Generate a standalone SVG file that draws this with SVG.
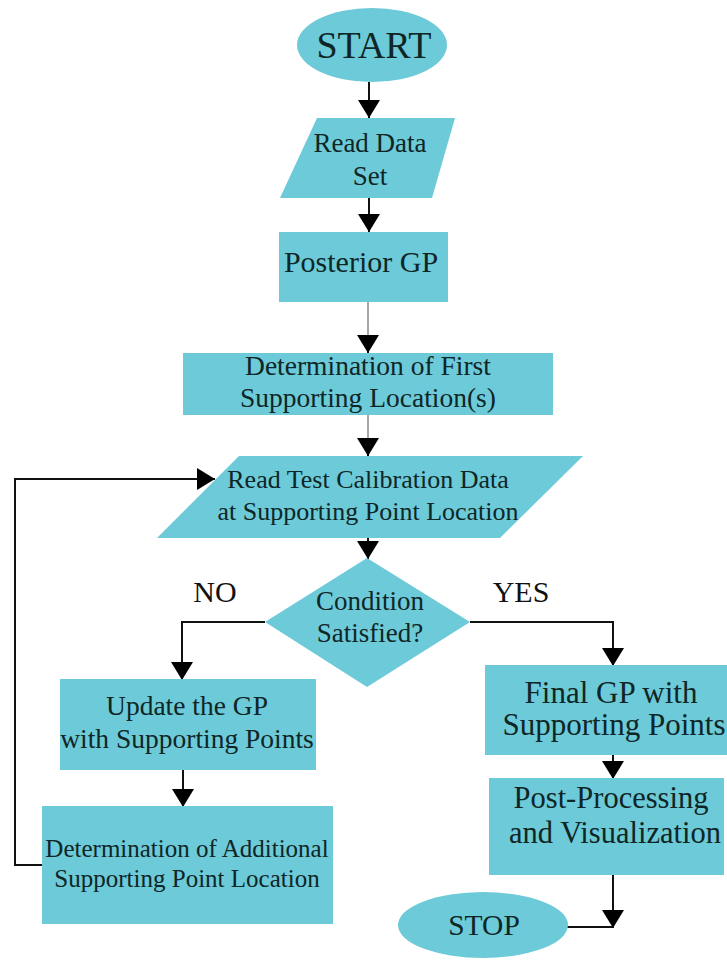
<svg xmlns="http://www.w3.org/2000/svg" width="727" height="960" viewBox="0 0 727 960">
<style>
.n{fill:#6dcad8;stroke:none}
.t{fill:#0f2626;text-anchor:middle}
.lbl{fill:#111;text-anchor:middle}
.c{fill:none;stroke:#111;stroke-width:2}
.g{fill:none;stroke:#8a8a8a;stroke-width:1.5}
</style>
<defs>
<marker id="ah" markerUnits="userSpaceOnUse" markerWidth="18" markerHeight="22" refX="18" refY="11" orient="auto">
<path d="M0,0 L18,11 L0,22 z" fill="#000"/>
</marker>
</defs>
<rect width="727" height="960" fill="#fff"/>
<g id="connectors">
<path class="c" d="M369,82 V118" marker-end="url(#ah)"/>
<path class="c" d="M369,198 V232" marker-end="url(#ah)"/>
<path class="g" d="M368,302 V340"/>
<path class="c" d="M368,338 V353" marker-end="url(#ah)"/>
<path class="g" d="M368,415 V442"/>
<path class="c" d="M368,440 V456" marker-end="url(#ah)"/>
<path class="c" d="M368,538 V559" marker-end="url(#ah)"/>
<path class="c" d="M265,622 H182 V680" marker-end="url(#ah)"/>
<path class="c" d="M470,622 H613 V666" marker-end="url(#ah)"/>
<path class="c" d="M183,770 V807" marker-end="url(#ah)"/>
<path class="c" d="M613,755 V779" marker-end="url(#ah)"/>
<path class="c" d="M613,875 V928" marker-end="url(#ah)"/>
<path class="c" d="M613,927 H567"/>
<path class="c" d="M42,865 H15 V479 H215" marker-end="url(#ah)"/>
</g>
<g font-family="Liberation Serif, Tinos, DejaVu Serif, Times New Roman, serif">
<g id="start">
<ellipse class="n" cx="372" cy="45" rx="75" ry="37"/>
<text class="t" x="374" y="58" font-size="38">START</text>
</g>
<g id="read-data">
<polygon class="n" points="317,118 455,118 432,198 280,198"/>
<text class="t" x="370" y="152" font-size="27">Read Data</text>
<text class="t" x="370" y="185" font-size="27">Set</text>
</g>
<g id="posterior">
<rect class="n" x="279" y="232" width="169" height="70"/>
<text class="t" x="361" y="272" font-size="30">Posterior GP</text>
</g>
<g id="first-loc">
<rect class="n" x="183" y="353" width="370" height="62"/>
<text class="t" x="368" y="375" font-size="27.5">Determination of First</text>
<text class="t" x="368" y="407" font-size="27.5">Supporting Location(s)</text>
</g>
<g id="read-test">
<polygon class="n" points="239,456 583,456 500,538 157,538"/>
<text class="t" x="368" y="488" font-size="26">Read Test Calibration Data</text>
<text class="t" x="368" y="520" font-size="26">at Supporting Point Location</text>
</g>
<g id="condition">
<polygon class="n" points="367,558 470,622 367,687 265,622"/>
<text class="t" x="370" y="610" font-size="27">Condition</text>
<text class="t" x="370" y="642" font-size="27">Satisfied?</text>
</g>
<g id="labels">
<text class="lbl" x="215" y="602" font-size="30">NO</text>
<text class="lbl" x="521" y="602" font-size="30">YES</text>
</g>
<g id="update">
<rect class="n" x="60" y="679" width="256" height="91"/>
<text class="t" x="187" y="715" font-size="27.5">Update the GP</text>
<text class="t" x="187" y="748" font-size="27.5">with Supporting Points</text>
</g>
<g id="additional">
<rect class="n" x="42" y="806" width="291" height="118"/>
<text class="t" x="187" y="857" font-size="25">Determination of Additional</text>
<text class="t" x="187" y="887" font-size="25">Supporting Point Location</text>
</g>
<g id="final">
<rect class="n" x="485" y="665" width="245" height="90"/>
<text class="t" x="611" y="703" font-size="31">Final GP with</text>
<text class="t" x="614" y="735" font-size="31">Supporting Points</text>
</g>
<g id="post">
<rect class="n" x="489" y="778" width="235" height="97"/>
<text class="t" x="611" y="808" font-size="30.5">Post-Processing</text>
<text class="t" x="615" y="843" font-size="30.5">and Visualization</text>
</g>
<g id="stop">
<ellipse class="n" cx="483" cy="925" rx="85" ry="33"/>
<text class="t" x="484" y="935" font-size="29.5">STOP</text>
</g>
</g>
</svg>
